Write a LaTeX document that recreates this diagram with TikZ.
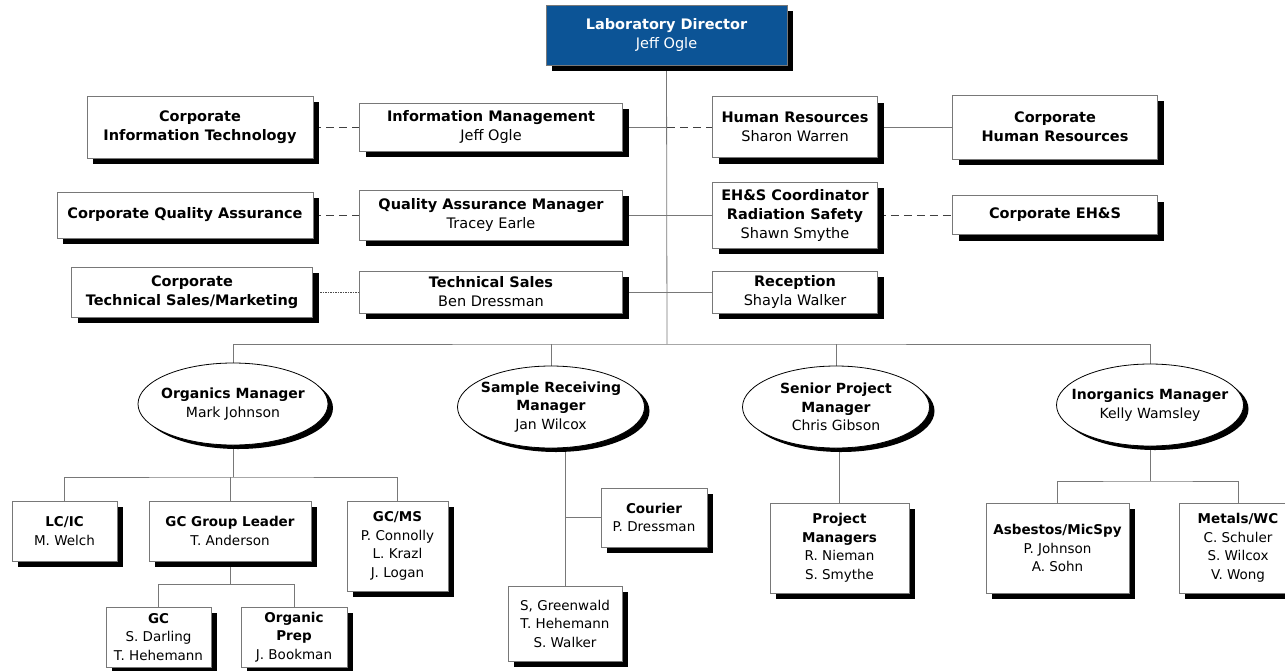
\documentclass[tikz,border=0pt]{standalone}
\usepackage{fontspec}
\setmainfont{DejaVu Sans}
\usetikzlibrary{shapes.geometric,shadows,backgrounds}

\definecolor{dirblue}{RGB}{12,84,150}
\definecolor{linegray}{RGB}{120,120,120}

\tikzset{
	unit/.style={draw=linegray, line width=0.7pt, fill=white, align=center, inner sep=0pt,
		font=\fontsize{14.5}{19}\selectfont,
		drop shadow={shadow xshift=6pt, shadow yshift=-6pt, fill=black, opacity=1}},
	subunit/.style={unit, font=\fontsize{13.5}{18.5}\selectfont},
	mgr/.style={ellipse, draw=black, line width=0.8pt, fill=white, inner sep=0pt,
		minimum width=187pt, minimum height=82pt,
		drop shadow={shadow xshift=5pt, shadow yshift=-4pt, fill=black, opacity=1}},
	mgrtext/.style={align=center, font=\fontsize{14}{18.5}\selectfont},
	link/.style={draw=linegray, line width=0.8pt},
	dashlink/.style={draw=black!75, line width=0.9pt, dash pattern=on 8pt off 5pt},
	dotlink/.style={draw=black!70, line width=0.6pt, dash pattern=on 1.5pt off 1pt}
}

\begin{document}
\begin{tikzpicture}[x=1pt, y=-1pt]
	\useasboundingbox (0,0) rectangle (1285,670);

	% director
	\node[unit, fill=dirblue, text=white, minimum width=241pt, minimum height=60pt](dir) at (666.5, 35){\textbf{Laboratory Director}\\Jeff Ogle};

	% staff rows
	\node[unit, minimum width=226pt, minimum height=62pt](corpIT) at (200, 127){\textbf{Corporate}\\\textbf{Information Technology}};
	\node[unit, minimum width=263pt, minimum height=48pt](info) at (491, 127){\textbf{Information Management}\\Jeff Ogle};
	\node[unit, minimum width=165pt, minimum height=61pt](hr) at (795, 127){\textbf{Human Resources}\\Sharon Warren};
	\node[unit, minimum width=205pt, minimum height=64pt](corpHR) at (1055, 127){\textbf{Corporate}\\\textbf{Human Resources}};

	\node[unit, minimum width=256pt, minimum height=46pt](corpQA) at (185, 215){\textbf{Corporate Quality Assurance}};
	\node[unit, minimum width=263pt, minimum height=50pt](qa) at (491, 215){\textbf{Quality Assurance Manager}\\Tracey Earle};
	\node[unit, minimum width=165pt, minimum height=66pt](ehs) at (795, 215){\textbf{EH\&S Coordinator}\\\textbf{Radiation Safety}\\Shawn Smythe};
	\node[unit, minimum width=205pt, minimum height=39pt](corpEHS) at (1055, 215){\textbf{Corporate EH\&S}};

	\node[unit, minimum width=241pt, minimum height=50pt](corpTS) at (192, 292){\textbf{Corporate}\\\textbf{Technical Sales/Marketing}};
	\node[unit, minimum width=263pt, minimum height=42pt](ts) at (491, 292){\textbf{Technical Sales}\\Ben Dressman};
	\node[unit, minimum width=165pt, minimum height=42pt](recep) at (795, 292){\textbf{Reception}\\Shayla Walker};

	% managers
	\node[mgr, minimum width=190pt](org) at (233, 404){};
	\node[mgrtext](orgtxt) at (org){\textbf{Organics Manager}\\Mark Johnson};
	\node[mgr](sr) at (551, 407){};
	\node[mgrtext](srtxt) at (sr){\textbf{Sample Receiving}\\\textbf{Manager}\\Jan Wilcox};
	\node[mgr](spm) at (836, 407){};
	\node[mgrtext](spmtxt) at (spm){\textbf{Senior Project}\\\textbf{Manager}\\Chris Gibson};
	\node[mgr](inorg) at (1150, 405){};
	\node[mgrtext](inorgtxt) at (inorg){\textbf{Inorganics Manager}\\Kelly Wamsley};

	% organics groups
	\node[subunit, minimum width=105pt, minimum height=60pt](lcic) at (64.5, 531){\textbf{LC/IC}\\M. Welch};
	\node[subunit, minimum width=162pt, minimum height=60pt](gcgl) at (230, 531){\textbf{GC Group Leader}\\T. Anderson};
	\node[subunit, minimum width=101pt, minimum height=90pt](gcms) at (397.5, 546){\textbf{GC/MS}\\P. Connolly\\L. Krazl\\J. Logan};
	\node[subunit, minimum width=105pt, minimum height=60pt](gc) at (158.5, 637){\textbf{GC}\\S. Darling\\T. Hehemann};
	\node[subunit, minimum width=106pt, minimum height=60pt](prep) at (294, 637){\textbf{Organic}\\\textbf{Prep}\\J. Bookman};

	% sample receiving
	\node[subunit, minimum width=106pt, minimum height=59pt](courier) at (654, 517.5){\textbf{Courier}\\P. Dressman};
	\node[subunit, minimum width=114pt, minimum height=75pt](staff) at (565, 623.5){S, Greenwald\\T. Hehemann\\S. Walker};

	% project management
	\node[subunit, minimum width=139pt, minimum height=90pt](pm) at (839.5, 548){\textbf{Project}\\\textbf{Managers}\\R. Nieman\\S. Smythe};

	% inorganics groups
	\node[subunit, minimum width=143pt, minimum height=90pt](asb) at (1057.5, 548){\textbf{Asbestos/MicSpy}\\P. Johnson\\A. Sohn};
	\node[subunit, minimum width=118pt, minimum height=90pt](metals) at (1238, 548){\textbf{Metals/WC}\\C. Schuler\\S. Wilcox\\V. Wong};

	\coordinate (bus) at (667, 344);
	\coordinate (orgbus) at (232, 477);
	\coordinate (gcbus) at (230, 584);
	\coordinate (inbus) at (1148, 481);

	\begin{scope}[on background layer]
		\draw[link] (dir.south) -- (bus);
		\draw[link] (org.north) |- (bus) -| (inorg.north);
		\draw[link] (sr.north) -- (sr.north |- bus);
		\draw[link] (spm.north) -- (spm.north |- bus);

		\draw[dashlink] (corpIT.east) -- (info.west);
		\draw[link] (info.east) -- (info.east -| bus);
		\draw[dashlink] (info.east -| bus) -- (hr.west);
		\draw[link] (hr.east) -- (corpHR.west);

		\draw[dashlink] (corpQA.east) -- (qa.west);
		\draw[link] (qa.east) -- (ehs.west);
		\draw[dashlink] (ehs.east) -- (corpEHS.west);

		\draw[dotlink] (corpTS.east) -- (ts.west);
		\draw[link] (ts.east) -- (recep.west);

		\draw[link] (org.south) -- (org.south |- orgbus);
		\draw[link] (lcic.north) |- (orgbus) -| (gcms.north);
		\draw[link] (gcgl.north) -- (gcgl.north |- orgbus);
		\draw[link] (gcgl.south) -- (gcgl.south |- gcbus);
		\draw[link] (gc.north) |- (gcbus) -| (prep.north);

		\draw[link] (staff.north) -- (staff.north |- sr.south);
		\draw[link] (courier.west) -- (courier.west -| staff.north);

		\draw[link] (pm.north) -- (pm.north |- spm.south);

		\draw[link] (inorg.south) -- (inorg.south |- inbus);
		\draw[link] (asb.north) |- (inbus) -| (metals.north);
	\end{scope}
\end{tikzpicture}
\end{document}
